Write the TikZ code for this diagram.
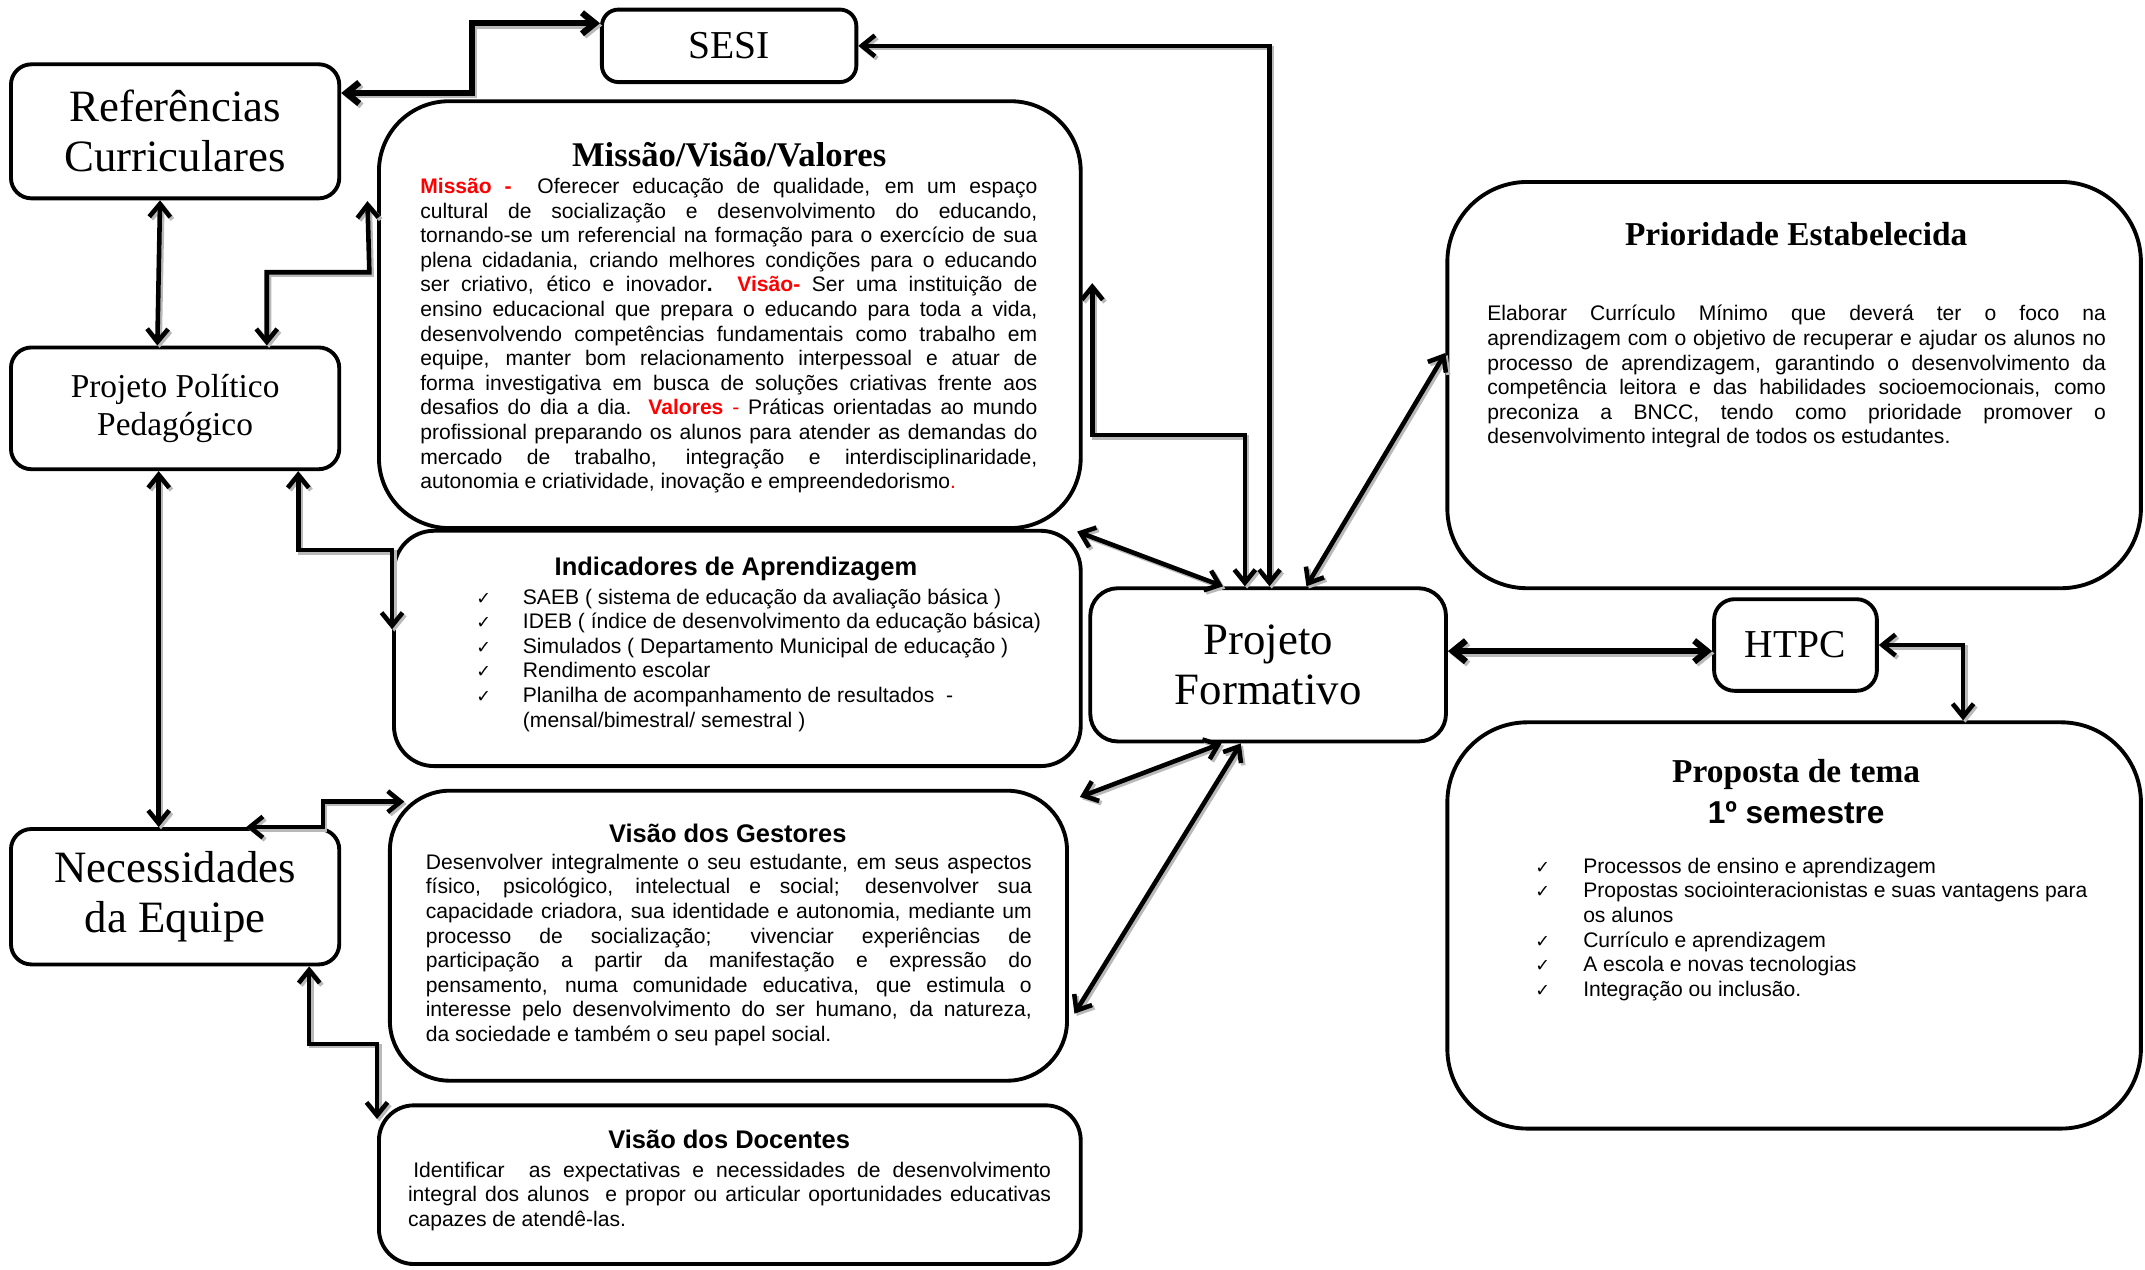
\documentclass[tikz,border=0pt]{standalone}
\usepackage{fontspec}
\setmainfont{Liberation Serif}
\setsansfont{Liberation Sans}
\newfontfamily\checkfont{DejaVu Sans}
\usetikzlibrary{arrows.meta, positioning, fit, calc}
\hyphenpenalty=10000
\exhyphenpenalty=10000
\tikzset{>={Straight Barb[length=2.6mm,width=4.2mm]}}
\tikzset{
  block/.style={draw, line width=2.2pt, rounded corners=#1, inner sep=0pt},
  block/.default=0.41cm,
  boxsize/.style 2 args={minimum width=#1*0.02736cm, minimum height=#2*0.02736cm},
  link/.style={<->, line width=#1, preaction={draw=gray!55, line width=#1, transform canvas={shift={(1.3pt,-1.3pt)}}}},
  link/.default=2.6pt,
  bigtext/.style={font=\fontsize{25.5}{28.5}\selectfont, align=center},
  serifhead/.style={font=\fontsize{19}{22}\selectfont\bfseries, inner sep=0pt},
  sanshead/.style={font=\sffamily\bfseries\fontsize{14.5}{17}\selectfont, inner sep=0pt},
  bodytext/.style={font=\sffamily\fontsize{12}{14}\selectfont, align=justify, inner sep=0pt, anchor=north west, text width=#1},
  listtext/.style={font=\sffamily\fontsize{12}{14}\selectfont, align=left, inner sep=0pt, anchor=north west}
}
\newcommand{\chk}[1]{\makebox[#1][l]{\checkfont\fontsize{10}{14}\selectfont ✓}}
\newcommand{\redword}[1]{\textcolor{red}{\textbf{#1}}}

\begin{document}
\begin{tikzpicture}[x=0.02736cm, y=-0.02736cm]
\useasboundingbox (0,0) rectangle (1568,928);

% left column
\node[block, bigtext, boxsize={240}{98}] (ref) at (128,96) {Referências\\Curriculares};
\node[block, font=\fontsize{19}{21.8}\selectfont, align=center, boxsize={240}{89}] (ppp) at (128,298.5) {Projeto Político\\Pedagógico};
\node[block, bigtext, boxsize={240}{99}] (need) at (128,655.5) {Necessidades\\da Equipe};

% top
\node[block=0.33cm, font=\fontsize{22.5}{26}\selectfont, boxsize={186}{53}] (sesi) at (533,33.5) {SESI};

% Missao / Visao / Valores
\node[block=1.4cm, fit={(277,74) (790,386)}] (mvv) {};
\node[serifhead, font=\fontsize{19.7}{22}\selectfont\bfseries] (mvvTitle) at (533,113) {Missão/Visão/Valores};
\node[bodytext=12.34cm] (mvvText) at (307,130) {\redword{Missão -}\ \ Oferecer educação de qualidade, em um espaço\linebreak
cultural de socialização e desenvolvimento do educando,\linebreak
tornando-se um referencial na formação para o exercício de sua\linebreak
plena cidadania, criando melhores condições para o educando\linebreak
ser criativo, ético e inovador\textbf{.} \redword{Visão-} Ser uma instituição de\linebreak
ensino educacional que prepara o educando para toda a vida,\linebreak
desenvolvendo competências fundamentais como trabalho em\linebreak
equipe, manter bom relacionamento interpessoal e atuar de\linebreak
forma investigativa em busca de soluções criativas frente aos\linebreak
desafios do dia a dia. \redword{Valores} \textcolor{red}{-} Práticas orientadas ao mundo\linebreak
profissional preparando os alunos para atender as demandas do\linebreak
mercado de trabalho, integração e interdisciplinaridade,\linebreak
autonomia e criatividade, inovação e empreendedorismo\textcolor{red}{.}};

% Indicadores
\node[block=0.8cm, fit={(288,388) (790,560)}] (ind) {};
\node[sanshead] (indTitle) at (538,416) {Indicadores de Aprendizagem};
\node[listtext] (indText) at (348,430) {\chk{0.93cm}SAEB ( sistema de educação da avaliação básica )\\
\chk{0.93cm}IDEB ( índice de desenvolvimento da educação básica)\\
\chk{0.93cm}Simulados ( Departamento Municipal de educação )\\
\chk{0.93cm}Rendimento escolar\\
\chk{0.93cm}Planilha de acompanhamento de resultados\ \ -\\
\hspace*{0.93cm}(mensal/bimestral/ semestral )};

% Gestores
\node[block=1.2cm, fit={(285,578) (780,790)}] (gest) {};
\node[sanshead] (gestTitle) at (532,609) {Visão dos Gestores};
\node[bodytext=12.12cm] (gestText) at (311,624) {Desenvolver integralmente o seu estudante, em seus aspectos\linebreak
físico, psicológico, intelectual e social; desenvolver sua\linebreak
capacidade criadora, sua identidade e autonomia, mediante um\linebreak
processo de socialização; vivenciar experiências de\linebreak
participação a partir da manifestação e expressão do\linebreak
pensamento, numa comunidade educativa, que estimula o\linebreak
interesse pelo desenvolvimento do ser humano, da natureza,\linebreak
da sociedade e também o seu papel social.};

% Docentes
\node[block=0.7cm, fit={(277,808) (790,924)}] (doc) {};
\node[sanshead] (docTitle) at (533,833) {Visão dos Docentes};
\node[bodytext=12.86cm] (docText) at (298,849) {\hspace{0.25em}Identificar\ \ as expectativas e necessidades de desenvolvimento\linebreak
integral dos alunos\ \ e propor ou articular oportunidades educativas\linebreak
capazes de atendê-las.};

% right side
\node[block=0.55cm, bigtext, boxsize={260}{112}] (pf) at (927,486) {Projeto\\Formativo};
\node[block, font=\fontsize{22.5}{26}\selectfont, boxsize={119}{67}] (htpc) at (1312.5,471.5) {HTPC};

\node[block=1.6cm, fit={(1058,133) (1565,430)}] (prio) {};
\node[serifhead] (prioTitle) at (1313,171) {Prioridade Estabelecida};
\node[bodytext=12.37cm] (prioText) at (1087,223) {Elaborar Currículo Mínimo que deverá ter o foco na\linebreak
aprendizagem com o objetivo de recuperar e ajudar os alunos no\linebreak
processo de aprendizagem, garantindo o desenvolvimento da\linebreak
competência leitora e das habilidades socioemocionais, como\linebreak
preconiza a BNCC, tendo como prioridade promover o\linebreak
desenvolvimento integral de todos os estudantes.};

\node[block=1.6cm, fit={(1058,528) (1565,825)}] (prop) {};
\node[serifhead] (propTitle) at (1313,566) {Proposta de tema};
\node[sanshead, font=\sffamily\bfseries\fontsize{18}{20}\selectfont] (propSem) at (1313,594) {1º semestre};
\node[listtext] (propText) at (1122,627) {\chk{0.96cm}Processos de ensino e aprendizagem\\
\chk{0.96cm}Propostas sociointeracionistas e suas vantagens para\\
\hspace*{0.96cm}os alunos\\
\chk{0.96cm}Currículo e aprendizagem\\
\chk{0.96cm}A escola e novas tecnologias\\
\chk{0.96cm}Integração ou inclusão.};

% connectors, left column
\draw[link] (ref.south -| 117,0) -- (ppp.north -| 115,0);
\draw[link] (ppp.south -| 116,0) -- (need.north -| 116,0);
\draw[link=3.6pt] (ref.east |- 0,68) -| (345,17) -- (sesi.west |- 0,17);
\draw[link] (ppp.north -| 195,0) |- (270,199) -- ($(mvv.west |- 0,147)+(-7,0)$);
\draw[link] (ppp.south -| 218,0) |- (ind.west |- 0,402) -- (ind.west |- 0,460);
\draw[link] (need.north -| 180,0) -| (236,586) -- ($(gest.west |- 0,586)+(12,0)$);
\draw[link] (need.south -| 226,0) |- (doc.west |- 0,763) -- (doc.west |- 0,818);

% connectors, Projeto Formativo
\draw[link] (sesi.east) -| (pf.north -| 928,0);
\draw[link] ($(mvv.east |- 0,207)+(7,0)$) |- (910,318) -- (pf.north -| 910,0);
\draw[link] ($(ind.north east)+(-4,2)$) -- (pf.north -| 894,0);
\draw[link] (pf.north -| 955,0) -- (prio.west |- 0,258);
\draw[link] (pf.south -| 893,0) -- ($(gest.north east)+(8,6)$);
\draw[link] (pf.south -| 907,0) -- ($(gest.east |- 0,741)+(4,0)$);
\draw[link=3.6pt] (pf.east |- 0,476) -- (htpc.west |- 0,476);
\draw[link] (htpc.east) -| (prop.north -| 1435,0);

\end{tikzpicture}
\end{document}
